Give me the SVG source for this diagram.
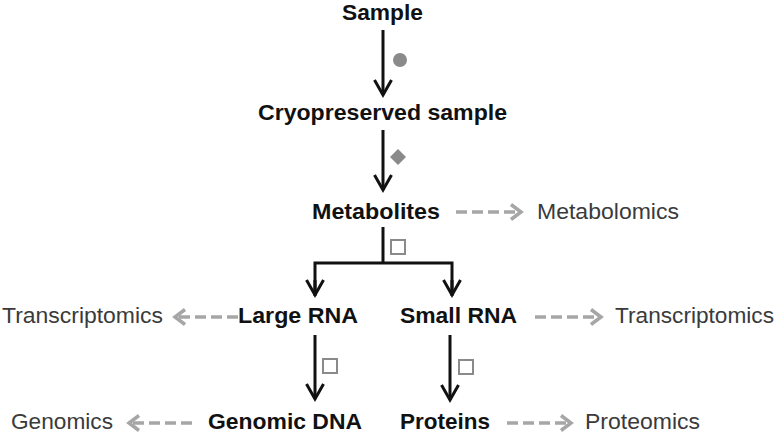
<svg xmlns="http://www.w3.org/2000/svg" width="779" height="443" viewBox="0 0 779 443">
<style>
text{font-family:"Liberation Sans",Arial,sans-serif;font-size:22px}
.b{font-weight:bold;fill:#111}
.r{fill:#3a3a3a}
.main{stroke:#111;stroke-width:3;fill:none}
.dash{stroke:#a6a6a6;stroke-width:3.5;fill:none;stroke-dasharray:11 5}
.sym{fill:#8a8a8a}
.box{fill:#fff;stroke:#8a8a8a;stroke-width:2}
</style>
<defs>
<marker id="ah" viewBox="-20 -12 24 24" markerWidth="24" markerHeight="24" refX="0" refY="0" orient="auto" markerUnits="userSpaceOnUse">
<path d="M-15,-8.5 L0,0 L-15,8.5" fill="none" stroke="#111" stroke-width="3"/>
</marker>
<marker id="gh" viewBox="-16 -12 20 24" markerWidth="20" markerHeight="24" refX="0" refY="0" orient="auto" markerUnits="userSpaceOnUse">
<path d="M-10,-7.5 L0,0 L-10,7.5" fill="none" stroke="#a6a6a6" stroke-width="3.5"/>
</marker>
</defs>

<g id="connectors">
<line class="main" x1="383" y1="30" x2="383" y2="95" marker-end="url(#ah)"/>
<line class="main" x1="383" y1="130" x2="383" y2="190" marker-end="url(#ah)"/>
<polyline class="main" points="383,227 383,263"/>
<polyline class="main" points="315,296 315,263 452,263 452,296"/>
<line class="main" x1="315" y1="280" x2="315" y2="295" marker-end="url(#ah)"/>
<line class="main" x1="452" y1="280" x2="452" y2="295" marker-end="url(#ah)"/>
<line class="main" x1="315" y1="335" x2="315" y2="399" marker-end="url(#ah)"/>
<line class="main" x1="450" y1="335" x2="450" y2="400" marker-end="url(#ah)"/>
<line class="dash" x1="456" y1="212" x2="521" y2="212" marker-end="url(#gh)"/>
<line class="dash" x1="238" y1="317" x2="175" y2="317" marker-end="url(#gh)"/>
<line class="dash" x1="535" y1="317" x2="601" y2="317" marker-end="url(#gh)"/>
<line class="dash" x1="192" y1="423" x2="129" y2="423" marker-end="url(#gh)"/>
<line class="dash" x1="507" y1="423" x2="571" y2="423" marker-end="url(#gh)"/>
<circle class="sym" cx="400" cy="60" r="7"/>
<polygon class="sym" points="398,149 406,157 398,165 390,157"/>
<rect class="box" x="391" y="240" width="14" height="14"/>
<rect class="box" x="323" y="359" width="14" height="14"/>
<rect class="box" x="459" y="360" width="14" height="14"/>
</g>

<g id="sample"><text class="b" x="342" y="20" textLength="81" lengthAdjust="spacingAndGlyphs">Sample</text></g>
<g id="cryopreserved"><text class="b" x="258" y="120" textLength="249" lengthAdjust="spacingAndGlyphs">Cryopreserved sample</text></g>
<g id="metabolites"><text class="b" x="312" y="219" textLength="128" lengthAdjust="spacingAndGlyphs">Metabolites</text></g>
<g id="metabolomics"><text class="r" x="537" y="219" textLength="142" lengthAdjust="spacingAndGlyphs">Metabolomics</text></g>
<g id="large-rna"><text class="b" x="238" y="323" textLength="120" lengthAdjust="spacingAndGlyphs">Large RNA</text></g>
<g id="small-rna"><text class="b" x="400" y="323" textLength="117" lengthAdjust="spacingAndGlyphs">Small RNA</text></g>
<g id="transcriptomics-left"><text class="r" x="2" y="323" textLength="161" lengthAdjust="spacingAndGlyphs">Transcriptomics</text></g>
<g id="transcriptomics-right"><text class="r" x="615" y="323" textLength="159" lengthAdjust="spacingAndGlyphs">Transcriptomics</text></g>
<g id="genomics"><text class="r" x="11" y="429" textLength="102" lengthAdjust="spacingAndGlyphs">Genomics</text></g>
<g id="genomic-dna"><text class="b" x="208" y="429" textLength="154" lengthAdjust="spacingAndGlyphs">Genomic DNA</text></g>
<g id="proteins"><text class="b" x="400" y="429" textLength="90" lengthAdjust="spacingAndGlyphs">Proteins</text></g>
<g id="proteomics"><text class="r" x="585" y="429" textLength="115" lengthAdjust="spacingAndGlyphs">Proteomics</text></g>
</svg>
